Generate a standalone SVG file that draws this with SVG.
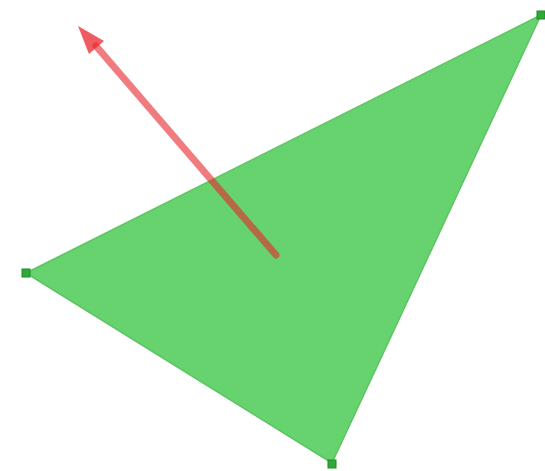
<svg xmlns="http://www.w3.org/2000/svg" width="545" height="471" viewBox="0 0 545 471">
<style>
.tri{fill:#66d36e;stroke:#5cc462;stroke-width:1.5;stroke-linejoin:round}
.v{fill:#2eaa38;stroke:#1f8a28;stroke-width:1}
.arr{stroke:#e8252b;stroke-opacity:0.6;stroke-width:7;stroke-linecap:round;fill:none}
.head{fill:#e8252b;fill-opacity:0.75}
</style>
<rect width="545" height="471" fill="#ffffff"/>
<g id="triangle">
<polygon class="tri" points="26,273 541,15 332,463"/>
</g>
<g id="v1"><rect class="v" x="22" y="269" width="8" height="8"/></g>
<g id="v2"><rect class="v" x="537" y="11" width="8" height="8"/></g>
<g id="v3"><rect class="v" x="328" y="460" width="8" height="8"/></g>
<g id="connectors">
<line class="arr" x1="276" y1="255" x2="96" y2="46"/>
<polygon class="head" points="78,26 104,41 89,54"/>
</g>
</svg>
